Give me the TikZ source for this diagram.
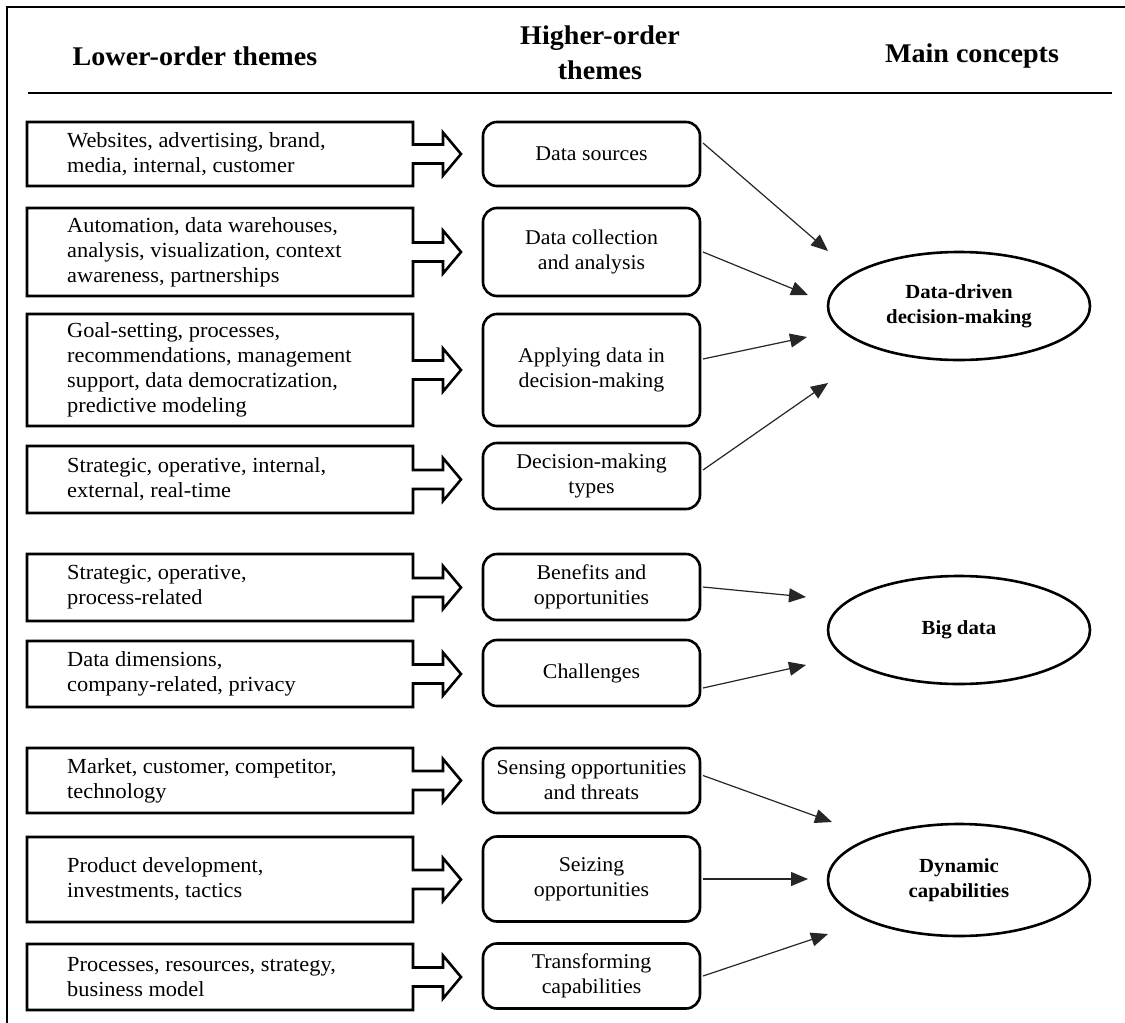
\documentclass[tikz,border=0pt]{standalone}
\usepackage{fontspec}
\setmainfont{Liberation Serif}[FakeStretch=1.04]
\usetikzlibrary{arrows.meta,calc,shapes.geometric}
\tikzset{
  boxline/.style={line width=2.6pt, line join=miter},
  lbox/.style={rectangle, draw=none, minimum width=386pt, inner sep=0pt, outer sep=0pt},
  ltext/.style={font=\fontsize{21.5}{25}\selectfont, align=left, anchor=west, inner sep=0pt},
  rbox/.style={draw, line width=2.6pt, rounded corners=14pt, minimum width=217pt, align=center,
     inner sep=0pt, outer sep=0pt, font=\fontsize{21}{25}\selectfont},
  ell/.style={draw, ellipse, line width=2.6pt, minimum width=262pt, minimum height=108pt,
     inner sep=0pt, align=center, font=\bfseries\fontsize{20}{25}\selectfont},
  conn/.style={line width=1.2pt, draw=black!85, -{Triangle[length=17pt,width=14pt]}},
  head/.style={align=center, font=\bfseries\fontsize{27}{35}\selectfont, inner sep=0pt},
  frameline/.style={line width=1.6pt},
}
\newcommand\lrow[4]{%
  \node[lbox, minimum height=#3] (#1) at (220,#2) {};
  \draw[boxline] (#1.north west) -- (#1.north east) -- ($(#1.east)+(0,-9.5)$) -- ($(#1.east)+(30,-9.5)$)
     -- ($(#1.east)+(30,-21.5)$) -- ($(#1.east)+(48,0)$) -- ($(#1.east)+(30,21.5)$) -- ($(#1.east)+(30,9.5)$)
     -- ($(#1.east)+(0,9.5)$) -- (#1.south east) -- (#1.south west) -- cycle;
  \node[ltext] (#1t) at (67,#2) {#4};
}
\begin{document}
\begin{tikzpicture}[x=1pt,y=-1pt]
\useasboundingbox (0,0) rectangle (1125,1023);
\fill[white] (0,0) rectangle (1125,1023);
% frame
\draw[frameline] (7,1023) -- (7,7) -- (1125,7);
% headers
\node[head] (h1) at (195,56) {Lower-order themes};
\node[head] (h2) at (600,53) {Higher-order\\themes};
\node[head] (h3) at (972,56) {Main concepts};
\draw[line width=1.6pt] (28,93) -- (1112,93);
% left column
\lrow{l1}{154}{64}{Websites, advertising, brand,\\media, internal, customer}
\lrow{l2}{252}{88}{Automation, data warehouses,\\analysis, visualization, context\\awareness, partnerships}
\lrow{l3}{370}{112}{Goal-setting, processes,\\recommendations, management\\support, data democratization,\\predictive modeling}
\lrow{l4}{479.5}{67}{Strategic, operative, internal,\\external, real-time}
\lrow{l5}{587.5}{67}{Strategic, operative,\\process-related}
\lrow{l6}{674}{66}{Data dimensions,\\company-related, privacy}
\lrow{l7}{780.5}{65}{Market, customer, competitor,\\technology}
\lrow{l8}{879.5}{85}{Product development,\\investments, tactics}
\lrow{l9}{977}{66}{Processes, resources, strategy,\\business model}
% middle column
\node[rbox, minimum height=64pt] (r1) at (591.5,154) {Data sources};
\node[rbox, minimum height=88pt] (r2) at (591.5,252) {Data collection\\and analysis};
\node[rbox, minimum height=112pt] (r3) at (591.5,370) {Applying data in\\decision-making};
\node[rbox, minimum height=66pt] (r4) at (591.5,476) {Decision-making\\types};
\node[rbox, minimum height=66pt] (r5) at (591.5,587) {Benefits and\\opportunities};
\node[rbox, minimum height=66pt] (r6) at (591.5,673) {Challenges};
\node[rbox, minimum height=65pt] (r7) at (591.5,780.5) {Sensing opportunities\\and threats};
\node[rbox, minimum height=85pt] (r8) at (591.5,879) {Seizing\\opportunities};
\node[rbox, minimum height=65pt] (r9) at (591.5,976) {Transforming\\capabilities};
% main concepts
\node[ell] (e1) at (959,306) {Data-driven\\decision-making};
\node[ell] (e2) at (959,630) {Big data};
\node[ell, minimum height=112pt] (e3) at (959,880) {Dynamic\\capabilities};
% arrow tips
\coordinate (t1) at (828,251);
\coordinate (t2) at (808,295);
\coordinate (t3) at (807,337);
\coordinate (t4) at (828,383);
\coordinate (t5) at (806,597);
\coordinate (t6) at (806,665);
\coordinate (t7) at (832,822);
\coordinate (t8) at (808,879);
\coordinate (t9) at (828,934);
\draw[conn] ($(r1.east)+(3,-11)$) -- (t1);
\draw[conn] ($(r2.east)+(3,0)$) -- (t2);
\draw[conn] ($(r3.east)+(3,-11)$) -- (t3);
\draw[conn] ($(r4.east)+(3,-6)$) -- (t4);
\draw[conn] ($(r5.east)+(3,0)$) -- (t5);
\draw[conn] ($(r6.east)+(3,15)$) -- (t6);
\draw[conn] ($(r7.east)+(3,-5)$) -- (t7);
\draw[conn] ($(r8.east)+(3,0)$) -- (t8);
\draw[conn] ($(r9.east)+(3,0)$) -- (t9);
\end{tikzpicture}
\end{document}
